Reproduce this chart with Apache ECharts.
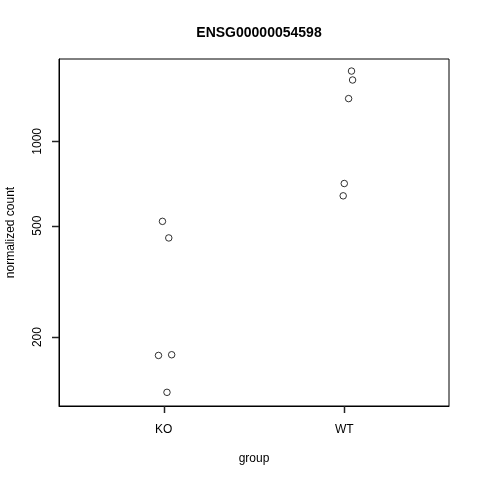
<!DOCTYPE html>
<html>
<head>
<meta charset="utf-8">
<script src="https://cdn.jsdelivr.net/npm/echarts@6/dist/echarts.min.js"></script>
<style>html,body{margin:0;padding:0;background:#fff}#c{width:480px;height:480px}</style>
</head>
<body>
<div id="c"></div>
<script>
const title = "ENSG00000054598";
const groups = ["KO", "WT"];
// jittered group positions (1 = KO, 2 = WT) and normalized counts
const koX = [0.993, 1.028, 0.971, 1.044, 1.018];
const koCounts = [518, 452, 172, 173, 127];
const wtX = [2.040, 2.046, 2.024, 2.000, 1.994];
const wtCounts = [1782, 1656, 1421, 707, 639];
const yTicks = [200, 500, 1000];
const xTicks = [1, 2];
const xRange = [0.42, 2.58];
const yRange = [113.5, 1968];

const font = "Liberation Sans, Arial, Helvetica, sans-serif";
const pts = [];
koX.forEach((x, i) => pts.push([x, koCounts[i]]));
wtX.forEach((x, i) => pts.push([x, wtCounts[i]]));

const TICK = 7;
const snap = v => Math.round(v) + 0.5;

const chart = echarts.init(document.getElementById('c'), null, {renderer: 'canvas'});
chart.setOption({
  animation: false,
  backgroundColor: '#fff',
  title: {
    text: title, left: 254, top: 21, textAlign: 'center',
    textStyle: {fontFamily: font, fontSize: 14, fontWeight: 'bold', color: '#000'}
  },
  grid: {left: 59, right: 31, top: 59, bottom: 74, containLabel: false, outerBoundsMode: 'none',
    show: true, borderColor: '#000', borderWidth: 1, backgroundColor: 'transparent'},
  xAxis: {
    type: 'value', min: xRange[0], max: xRange[1],
    name: 'group', nameLocation: 'middle', nameGap: 47,
    nameTextStyle: {fontFamily: font, fontSize: 12, color: '#000'},
    axisLine: {show: true, lineStyle: {color: '#000', width: 1}},
    axisTick: {show: false},
    axisLabel: {show: true, customValues: xTicks, margin: 18, fontFamily: font, fontSize: 12, color: '#000',
      formatter: v => groups[Math.round(v) - 1]},
    splitLine: {show: false}
  },
  yAxis: {
    type: 'log', logBase: 10, min: yRange[0], max: yRange[1],
    name: 'normalized count', nameLocation: 'middle', nameGap: 42, nameRotate: 90,
    nameTextStyle: {fontFamily: font, fontSize: 12, color: '#000'},
    axisLine: {show: true, lineStyle: {color: '#000', width: 1}},
    axisTick: {show: false},
    axisLabel: {show: true, customValues: yTicks, rotate: 90, margin: 15, fontFamily: font, fontSize: 12, color: '#000',
      formatter: v => String(Math.round(v))},
    splitLine: {show: false}
  },
  series: [{
    type: 'scatter',
    data: pts,
    symbol: 'circle',
    symbolSize: 6.5,
    itemStyle: {color: 'rgba(0,0,0,0)', borderColor: '#000', borderWidth: 1}
  }, {
    // x-axis ticks (outward, R style)
    type: 'custom', silent: true, clip: false, coordinateSystem: 'cartesian2d',
    encode: {x: 0, y: 1},
    data: xTicks.map(v => [v, yRange[0]]),
    renderItem: (params, api) => {
      const p = api.coord([api.value(0), api.value(1)]);
      const x = snap(p[0]);
      return {type: 'line', shape: {x1: x, y1: p[1], x2: x, y2: p[1] + TICK}, style: {stroke: '#222', lineWidth: 1.5}};
    }
  }, {
    // y-axis ticks
    type: 'custom', silent: true, clip: false, coordinateSystem: 'cartesian2d',
    encode: {x: 0, y: 1},
    data: yTicks.map(v => [xRange[0], v]),
    renderItem: (params, api) => {
      const p = api.coord([api.value(0), api.value(1)]);
      const y = snap(p[1]);
      return {type: 'line', shape: {x1: p[0], y1: y, x2: p[0] - TICK, y2: y}, style: {stroke: '#222', lineWidth: 1.5}};
    }
  }]
});
</script>
</body>
</html>
